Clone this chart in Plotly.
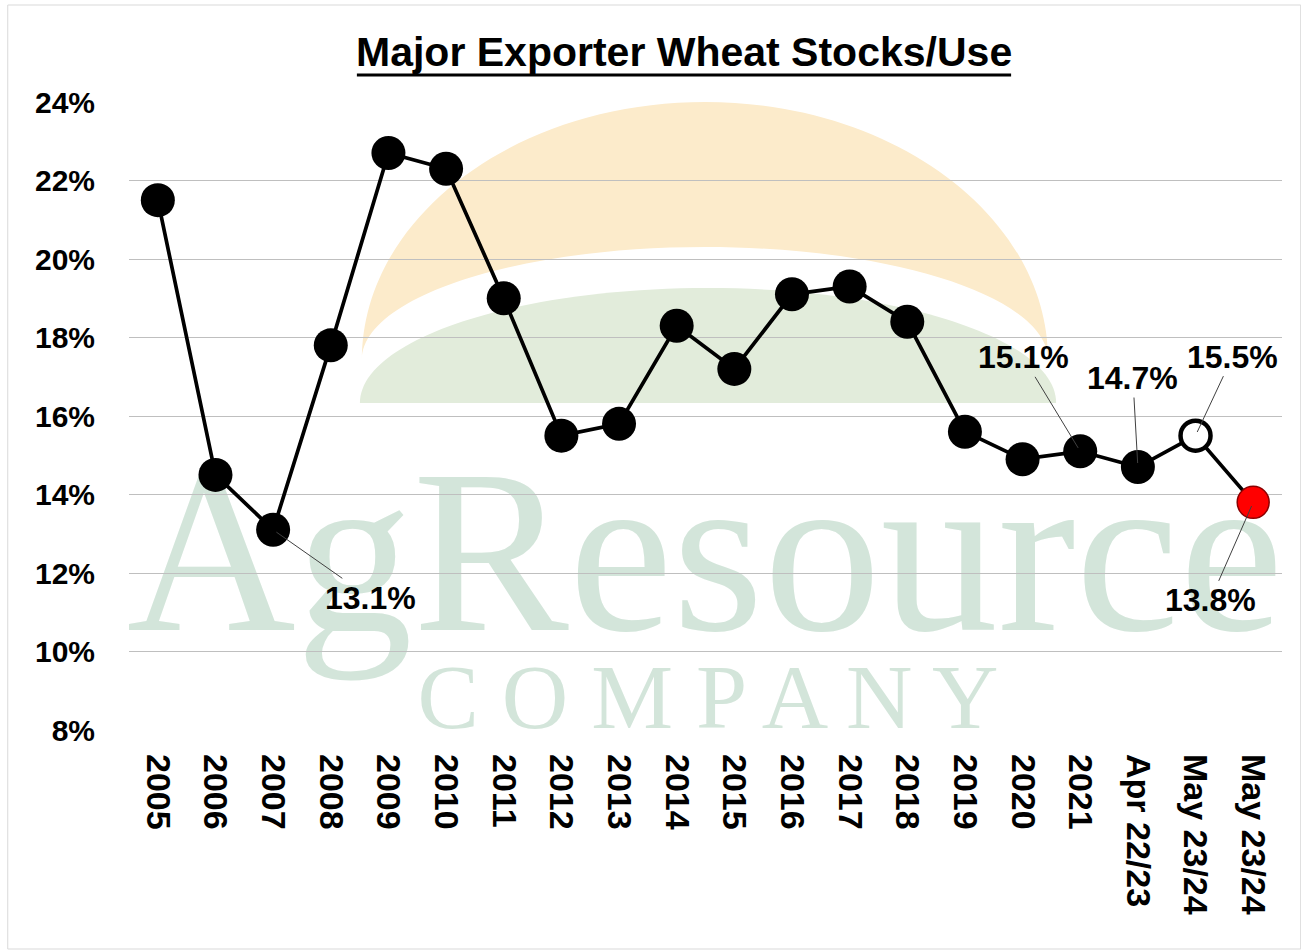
import plotly.graph_objects as go

# ---------------- data ----------------
categories = ["2005", "2006", "2007", "2008", "2009", "2010", "2011", "2012",
              "2013", "2014", "2015", "2016", "2017", "2018", "2019", "2020",
              "2021", "Apr 22/23", "May 23/24", "May 23/24"]
stocks_use = [21.5, 14.5, 13.1, 17.8, 22.7, 22.3, 19.0, 15.5, 15.8, 18.3,
              17.2, 19.1, 19.3, 18.4, 15.6, 14.9, 15.1, 14.7, 15.5, 13.8]
y_ticks = [8, 10, 12, 14, 16, 18, 20, 22, 24]
y_tick_text = [f"{v}%" for v in y_ticks]
labelled_idx = [2, 16, 17, 18, 19]

# ---------------- layout geometry (pixels) ----------------
W, H = 1301, 950
L, R, T, B = 129.2, 1281.8, 102, 730


def px(x):
    return (x - L) / (R - L)


def py(y):
    return (B - y) / (B - T)


x_idx = list(range(len(categories)))

marker_colors = ["black"] * (len(categories) - 2) + ["white", "#ff0000"]
marker_line_colors = ["black"] * (len(categories) - 2) + ["black", "#8b0000"]
marker_line_widths = [0] * (len(categories) - 2) + [4.5, 1.5]
marker_sizes = [34] * (len(categories) - 2) + [30, 32]

fig = go.Figure()
fig.add_trace(go.Scatter(
    x=x_idx, y=stocks_use, mode="lines+markers",
    line=dict(color="black", width=3.7),
    marker=dict(size=marker_sizes, color=marker_colors, opacity=1,
                line=dict(color=marker_line_colors, width=marker_line_widths)),
    opacity=1, hoverinfo="skip", showlegend=False,
))

# ---------------- watermark logo shapes ----------------
k = 0.5523


def dome(cx, cy, rx, ry):
    return (f"C {px(cx - rx)},{py(cy - k * ry)} {px(cx - k * rx)},{py(cy - ry)} {px(cx)},{py(cy - ry)} "
            f"C {px(cx + k * rx)},{py(cy - ry)} {px(cx + rx)},{py(cy - k * ry)} {px(cx + rx)},{py(cy)} ")


def dome_rev(cx, cy, rx, ry):
    return (f"C {px(cx + rx)},{py(cy - k * ry)} {px(cx + k * rx)},{py(cy - ry)} {px(cx)},{py(cy - ry)} "
            f"C {px(cx - k * rx)},{py(cy - ry)} {px(cx - rx)},{py(cy - k * ry)} {px(cx - rx)},{py(cy)} ")


cx0, cy0 = 705, 360
orange_path = (f"M {px(cx0 - 343)},{py(cy0)} " + dome(cx0, cy0, 343, 258)
               + dome_rev(cx0, cy0, 343, 113) + "Z")
green_path = (f"M {px(cx0 - 345)},{py(403)} " + dome(cx0 + 3, 403, 348, 115) + "Z")

shapes = [
    dict(type="path", path=orange_path, xref="paper", yref="paper",
         fillcolor="#fcebcb", line=dict(width=0), layer="below"),
    dict(type="path", path=green_path, xref="paper", yref="paper",
         fillcolor="#e2ecdb", line=dict(width=0), layer="below"),
    dict(type="rect", xref="paper", yref="paper",
         x0=px(95), x1=px(1315), y0=py(598), y1=py(453),
         line=dict(width=0), fillcolor="rgba(0,0,0,0)", layer="below",
         label=dict(text="AgResource", textposition="middle center",
                    font=dict(family="Liberation Serif", size=234, color="#d3e5da"))),
    dict(type="rect", xref="paper", yref="paper",
         x0=px(400), x1=px(1016), y0=py(715), y1=py(658),
         line=dict(width=0), fillcolor="rgba(0,0,0,0)", layer="below",
         label=dict(text="C O M P A N Y", textposition="middle center",
                    font=dict(family="Liberation Serif", size=92, color="#d3e5da"))),
    # title underline
    dict(type="line", xref="paper", yref="paper",
         x0=px(357), x1=px(1011), y0=py(75), y1=py(75),
         line=dict(color="black", width=3)),
    # outer frame
    dict(type="rect", xref="paper", yref="paper",
         x0=px(8), x1=px(1300.5), y0=py(949), y1=py(5),
         line=dict(color="#d9d9d9", width=1), fillcolor="rgba(0,0,0,0)", layer="below"),
]

# ---------------- annotations ----------------
label_offsets = {2: (97, 68), 16: (-57, -94), 17: (-5, -89), 18: (37, -79), 19: (-43, 98)}
annotations = [
    dict(text="Major Exporter Wheat Stocks/Use", xref="paper", yref="paper",
         x=px(684), y=py(52), xanchor="center", yanchor="middle", showarrow=False,
         font=dict(family="Liberation Sans", size=41, color="black", weight="bold")),
]
for i in labelled_idx:
    ax, ay = label_offsets[i]
    annotations.append(dict(
        x=x_idx[i], y=stocks_use[i], xref="x", yref="y",
        text=f"{stocks_use[i]:.1f}%", showarrow=True, arrowhead=0,
        arrowwidth=1, arrowcolor="#404040", ax=ax, ay=ay, standoff=4,
        font=dict(family="Liberation Sans", size=32, color="black", weight="bold"),
    ))

fig.update_layout(
    width=W, height=H,
    margin=dict(l=129, r=19, t=102, b=220),
    paper_bgcolor="white", plot_bgcolor="rgba(0,0,0,0)",
    shapes=shapes, annotations=annotations,
    xaxis=dict(
        range=[-0.5, len(categories) - 0.5], tickmode="array",
        tickvals=x_idx, ticktext=categories, tickangle=90,
        showgrid=False, zeroline=False, showline=False, ticks="",
        ticklabelstandoff=23,
        tickfont=dict(family="Liberation Sans", size=34, color="black", weight="bold"),
    ),
    yaxis=dict(
        range=[8, 24], tickmode="array", tickvals=y_ticks, ticktext=y_tick_text,
        showgrid=True, gridcolor="#bfbfbf", gridwidth=1, zeroline=False,
        showline=False, ticks="", ticklabelstandoff=33,
        tickfont=dict(family="Liberation Sans", size=30, color="black", weight="bold"),
    ),
)

fig.write_html("out.html", config={"displayModeBar": False},
               post_script="document.body.style.margin='0';")
